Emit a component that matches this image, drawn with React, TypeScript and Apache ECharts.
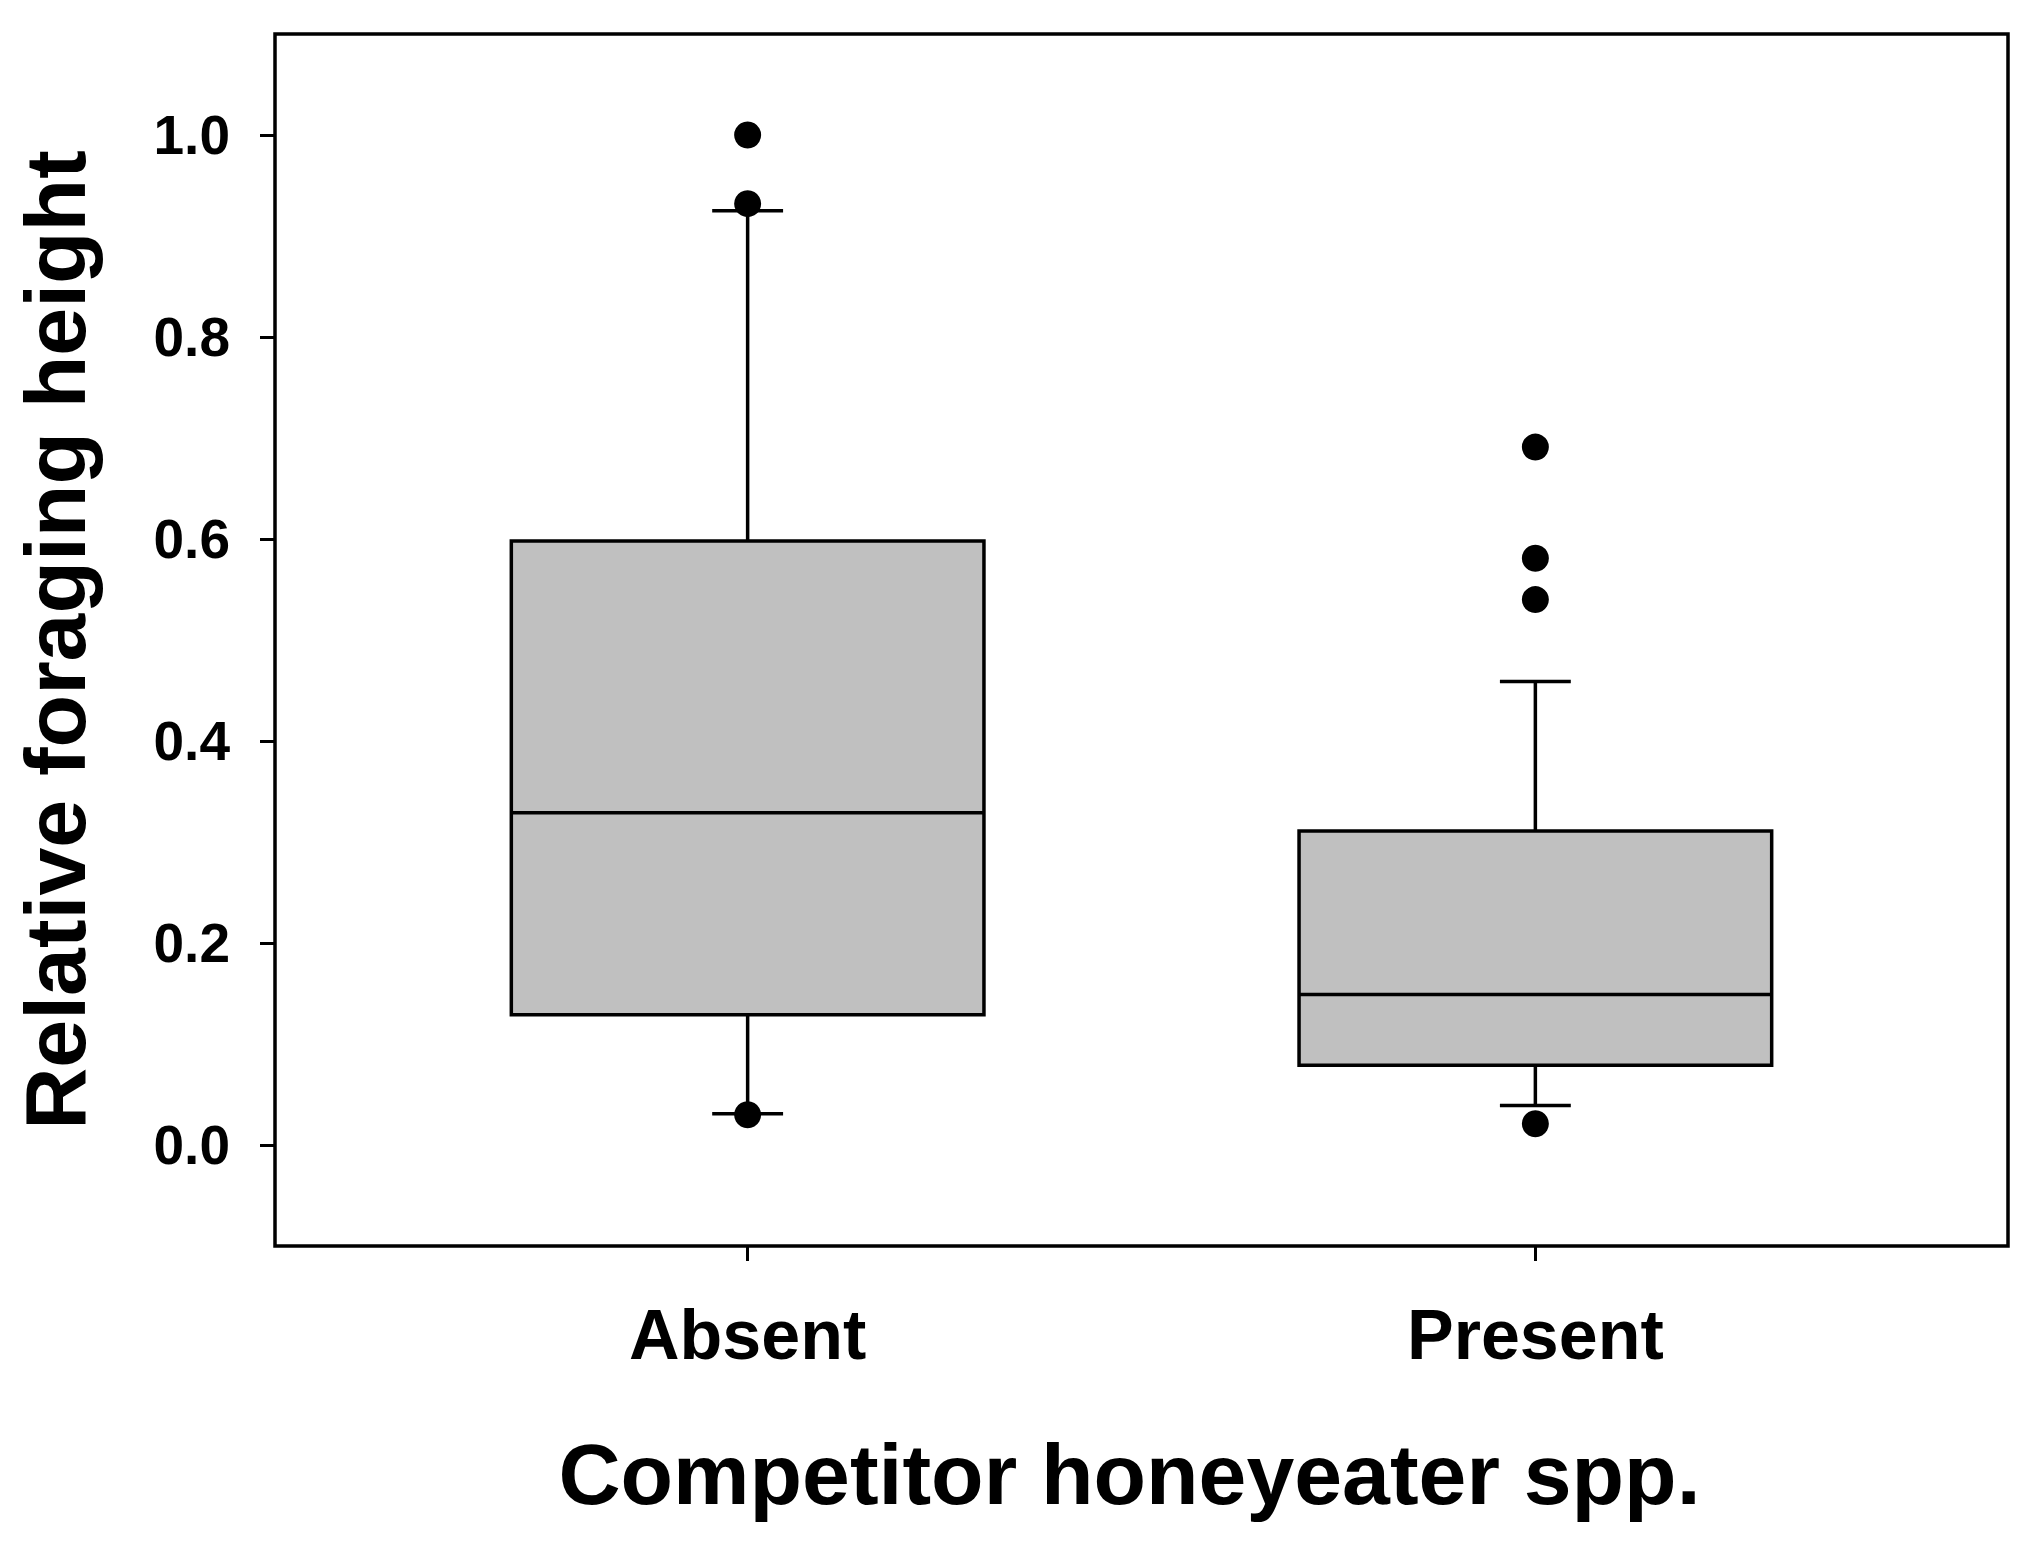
import React, { useEffect, useRef } from "react";
import * as echarts from "echarts";

// ---- Data ----
const categories = ["Absent", "Present"];
const categoryPositions = [1, 2];
const lowerWhisker = [0.031, 0.039];
const q1 = [0.129, 0.079];
const median = [0.329, 0.149];
const q3 = [0.598, 0.311];
const upperWhisker = [0.925, 0.459];
// outliers per category
const outlierAbsent = [1.0, 0.932, 0.03];
const outlierPresent = [0.691, 0.581, 0.54, 0.021];
const yTickValues = [0, 0.2, 0.4, 0.6, 0.8, 1.0];

const FONT = "'Liberation Sans', Arial, Helvetica, sans-serif";

export default function App() {
  const ref = useRef<HTMLDivElement | null>(null);

  useEffect(() => {
    if (!ref.current) return;
    const chart = echarts.init(ref.current, undefined, { renderer: "svg" });

    const boxData = categoryPositions.map((x, i) => [
      x,
      lowerWhisker[i],
      q1[i],
      median[i],
      q3[i],
      upperWhisker[i],
    ]);
    const outlierData = [
      ...outlierAbsent.map((v) => [categoryPositions[0], v]),
      ...outlierPresent.map((v) => [categoryPositions[1], v]),
    ];

    const HALF_BOX = 0.3;
    const HALF_CAP = 0.045;
    const LW = 3.5;
    const lineStyle = { stroke: "#000", lineWidth: LW };

    const option: any = {
      animation: false,
      backgroundColor: "#fff",
      grid: {
        left: 275,
        right: 31,
        top: 34,
        bottom: 295,
        show: true,
        borderColor: "#000",
        borderWidth: 3.5,
        backgroundColor: "transparent",
      },
      xAxis: {
        type: "value",
        min: 0.4,
        max: 2.6,
        splitLine: { show: false },
        axisLine: { show: false, onZero: false },
        axisTick: {
          show: true,
          inside: false,
          length: 15,
          customValues: categoryPositions,
          lineStyle: { color: "#000", width: 3 },
        },
        axisLabel: {
          customValues: categoryPositions,
          formatter: (v: number) => categories[Math.round(v) - 1] ?? "",
          margin: 54,
          color: "#000",
          fontFamily: FONT,
          fontWeight: "bold",
          fontSize: 70,
        },
        name: "Competitor honeyeater spp.",
        nameLocation: "middle",
        nameGap: 185,
        nameTextStyle: {
          color: "#000",
          fontFamily: FONT,
          fontWeight: "bold",
          fontSize: 86,
          padding: [0, 24, 0, 0],
        },
      },
      yAxis: {
        type: "value",
        min: -0.1,
        max: 1.1,
        splitLine: { show: false },
        axisLine: { show: false, onZero: false },
        axisTick: {
          show: true,
          inside: false,
          length: 15,
          customValues: yTickValues,
          lineStyle: { color: "#000", width: 3 },
        },
        axisLabel: {
          customValues: yTickValues,
          formatter: (v: number) => v.toFixed(1),
          margin: 45,
          color: "#000",
          fontFamily: FONT,
          fontWeight: "bold",
          fontSize: 55,
        },
        name: "Relative foraging height",
        nameLocation: "middle",
        nameGap: 177,
        nameTextStyle: {
          color: "#000",
          fontFamily: FONT,
          fontWeight: "bold",
          fontSize: 86,
        },
      },
      series: [
        {
          type: "custom",
          data: boxData,
          encode: { x: 0, y: [1, 2, 3, 4, 5] },
          renderItem: (params: any, api: any) => {
            const x = api.value(0);
            const lo = api.value(1);
            const b1 = api.value(2);
            const md = api.value(3);
            const b3 = api.value(4);
            const hi = api.value(5);
            const pTopLeft = api.coord([x - HALF_BOX, b3]);
            const pBotRight = api.coord([x + HALF_BOX, b1]);
            const pMedL = api.coord([x - HALF_BOX, md]);
            const pMedR = api.coord([x + HALF_BOX, md]);
            const pHi = api.coord([x, hi]);
            const pQ3 = api.coord([x, b3]);
            const pQ1 = api.coord([x, b1]);
            const pLo = api.coord([x, lo]);
            const capHiL = api.coord([x - HALF_CAP, hi]);
            const capHiR = api.coord([x + HALF_CAP, hi]);
            const capLoL = api.coord([x - HALF_CAP, lo]);
            const capLoR = api.coord([x + HALF_CAP, lo]);
            return {
              type: "group",
              children: [
                {
                  type: "line",
                  shape: { x1: pHi[0], y1: pHi[1], x2: pQ3[0], y2: pQ3[1] },
                  style: lineStyle,
                },
                {
                  type: "line",
                  shape: { x1: pQ1[0], y1: pQ1[1], x2: pLo[0], y2: pLo[1] },
                  style: lineStyle,
                },
                {
                  type: "line",
                  shape: { x1: capHiL[0], y1: capHiL[1], x2: capHiR[0], y2: capHiR[1] },
                  style: lineStyle,
                },
                {
                  type: "line",
                  shape: { x1: capLoL[0], y1: capLoL[1], x2: capLoR[0], y2: capLoR[1] },
                  style: lineStyle,
                },
                {
                  type: "rect",
                  shape: {
                    x: pTopLeft[0],
                    y: pTopLeft[1],
                    width: pBotRight[0] - pTopLeft[0],
                    height: pBotRight[1] - pTopLeft[1],
                  },
                  style: { fill: "#c0c0c0", stroke: "#000", lineWidth: LW },
                },
                {
                  type: "line",
                  shape: { x1: pMedL[0], y1: pMedL[1], x2: pMedR[0], y2: pMedR[1] },
                  style: lineStyle,
                },
              ],
            };
          },
          z: 2,
        },
        {
          type: "scatter",
          data: outlierData,
          symbol: "circle",
          symbolSize: 27,
          itemStyle: { color: "#000", opacity: 1 },
          z: 3,
        },
      ],
    };

    chart.setOption(option);
    return () => chart.dispose();
  }, []);

  return (
    <div
      ref={ref}
      style={{ position: "absolute", left: 0, top: 0, width: 2039, height: 1541 }}
    />
  );
}
